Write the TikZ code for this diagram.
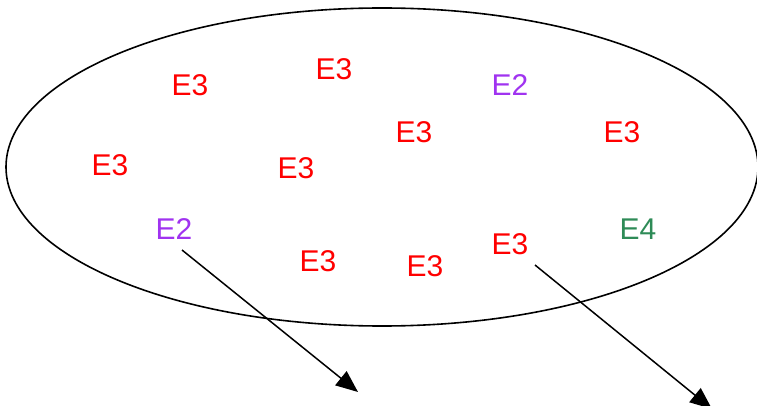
\documentclass[tikz,border=0pt]{standalone}
\usepackage{fontspec}
\setmainfont{Liberation Sans}
\usetikzlibrary{arrows.meta}
\definecolor{eR}{HTML}{FF0000}
\definecolor{eP}{HTML}{A033F0}
\definecolor{eG}{HTML}{2E8B57}
\begin{document}
\begin{tikzpicture}[x=1pt,y=-1pt,
  lbl/.style={font=\fontsize{30}{30}\selectfont, inner sep=0pt, anchor=center},
  conn/.style={draw=black, line width=1.5pt, -{Triangle[length=22pt,width=18pt]}}]
\useasboundingbox (0,0) rectangle (757,406);
\begin{scope}
\clip (0,0) rectangle (757,406);
\draw[line width=1.6pt] (382,167) ellipse [x radius=376, y radius=159];
\node[lbl,text=eR] (a1) at (190,85) {E3};
\node[lbl,text=eR] (a2) at (334,69) {E3};
\node[lbl,text=eP] (a3) at (510,85) {E2};
\node[lbl,text=eR] (a4) at (414,132) {E3};
\node[lbl,text=eR] (a5) at (622,132) {E3};
\node[lbl,text=eR] (a6) at (110,165) {E3};
\node[lbl,text=eR] (a7) at (296,168) {E3};
\node[lbl,text=eP] (a8) at (174,229) {E2};
\node[lbl,text=eG] (a9) at (638,229) {E4};
\node[lbl,text=eR] (a10) at (510,244) {E3};
\node[lbl,text=eR] (a11) at (318,261) {E3};
\node[lbl,text=eR] (a12) at (425,266) {E3};
\coordinate (s1) at (182,250);
\coordinate (t1) at (358,392);
\coordinate (s2) at (535,265);
\coordinate (t2) at (712,409);
\draw[conn] (s1) -- (t1);
\draw[conn] (s2) -- (t2);
\end{scope}
\end{tikzpicture}
\end{document}
